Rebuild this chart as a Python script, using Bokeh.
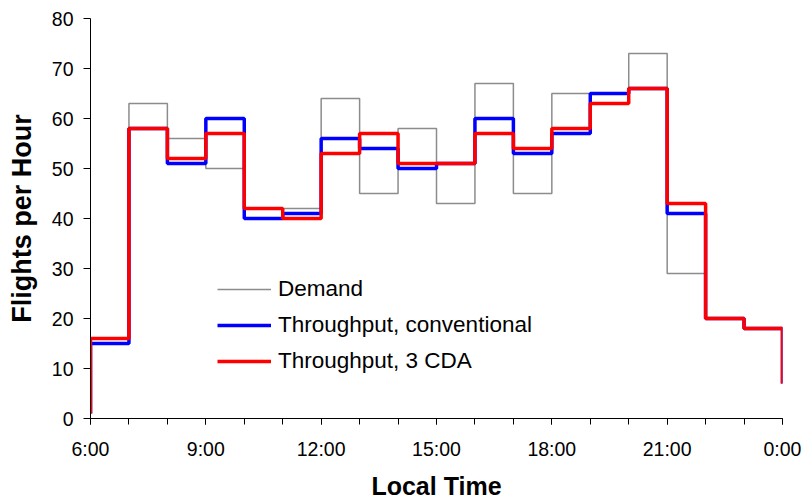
from bokeh.plotting import figure
from bokeh.models import FixedTicker, Legend, LegendItem
from bokeh.embed import file_html
from bokeh.resources import INLINE

# ---- data (hour of day; first/last points are the start/end of the step path) ----
hours = [6, 6, 7, 8, 9, 10, 11, 12, 13, 14, 15, 16, 17, 18, 19, 20, 21, 22, 23, 24]
demand = [1, 16, 63, 56, 50, 42, 42, 64, 45, 58, 43, 67, 45, 65, 65, 73, 29, 20, 18, 7]
throughput_conventional = [1, 15, 58, 51, 60, 40, 41, 56, 54, 50, 51, 60, 53, 57, 65, 66, 41, 20, 18, 7]
throughput_3cda = [1, 16, 58, 52, 57, 42, 40, 53, 57, 51, 51, 57, 54, 58, 63, 66, 43, 20, 18, 7]

x_tick_positions = [6, 9, 12, 15, 18, 21, 24]
x_tick_labels = ["6:00", "9:00", "12:00", "15:00", "18:00", "21:00", "0:00"]
x_minor_ticks = [6, 7, 8, 9, 10, 11, 12, 13, 14, 15, 16, 17, 18, 19, 20, 21, 22, 23, 24]
y_tick_positions = [0, 10, 20, 30, 40, 50, 60, 70, 80]

series_labels = ["Demand", "Throughput, conventional", "Throughput, 3 CDA"]

FONT = "Liberation Sans"

p = figure(width=806, height=502, output_backend="svg", toolbar_location=None,
           x_range=(6, 24), y_range=(0, 80),
           min_border_left=90, min_border_right=24, min_border_top=18, min_border_bottom=81)
p.outline_line_color = None
p.xgrid.visible = False
p.ygrid.visible = False
p.background_fill_color = "white"
p.border_fill_color = "white"

r_dem = p.step(hours, demand, mode="after", line_color="#8c8c8c", line_width=1.5)
r_conv = p.step(hours, throughput_conventional, mode="after", line_color="#0000ff", line_width=3.5)
r_cda = p.step(hours, throughput_3cda, mode="after", line_color="#ff0000", line_width=3.5)

# x axis
xa = p.xaxis[0]
xa.ticker = FixedTicker(ticks=x_tick_positions, minor_ticks=x_minor_ticks)
xa.major_label_overrides = {pos: lab for pos, lab in zip(x_tick_positions, x_tick_labels)}
xa.axis_label = "Local Time"
xa.major_tick_in = 0
xa.major_tick_out = 6
xa.minor_tick_in = 0
xa.minor_tick_out = 6
xa.major_label_standoff = 13
xa.axis_label_standoff = 9

# y axis
ya = p.yaxis[0]
ya.ticker = FixedTicker(ticks=y_tick_positions, minor_ticks=[])
ya.axis_label = "Flights per Hour"
ya.major_tick_in = 0
ya.major_tick_out = 7
ya.minor_tick_out = 0
ya.minor_tick_in = 0
ya.major_label_standoff = 10
ya.axis_label_standoff = 12

for ax in (xa, ya):
    ax.axis_line_color = "black"
    ax.axis_line_width = 1
    ax.major_tick_line_color = "black"
    ax.minor_tick_line_color = "black"
    ax.major_label_text_font = FONT
    ax.major_label_text_font_size = "19.5px"
    ax.major_label_text_color = "black"
    ax.axis_label_text_font = FONT
    ax.axis_label_text_font_style = "bold"
    ax.axis_label_text_color = "black"
xa.axis_label_text_font_size = "25px"
ya.axis_label_text_font_size = "27px"

legend = Legend(items=[
    LegendItem(label=series_labels[0], renderers=[r_dem]),
    LegendItem(label=series_labels[1], renderers=[r_conv]),
    LegendItem(label=series_labels[2], renderers=[r_cda]),
], location=(127, 44))
legend.padding = 0
legend.margin = 0
legend.spacing = 10
legend.label_height = 24
legend.glyph_height = 24
legend.glyph_width = 54
legend.label_standoff = 7
legend.label_text_font = FONT
legend.label_text_font_size = "22.5px"
legend.label_text_color = "black"
legend.border_line_alpha = 0
legend.background_fill_alpha = 0
p.add_layout(legend, "center")

open("out.html", "w").write(file_html(p, INLINE))
